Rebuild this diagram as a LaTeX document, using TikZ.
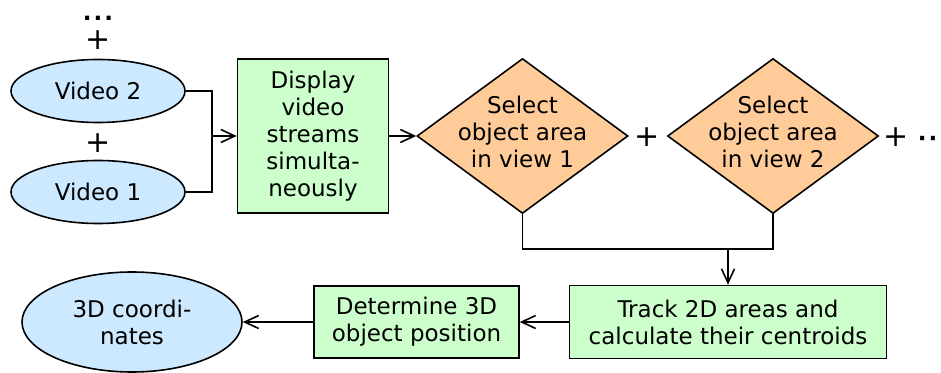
\documentclass[tikz,border=0pt]{standalone}
\usepackage{fontspec}
\setmainfont{DejaVu Sans}
\usetikzlibrary{arrows.meta,shapes.geometric,calc}
\definecolor{vidblue}{HTML}{CCE9FF}
\definecolor{boxgreen}{HTML}{CCFFCC}
\definecolor{selorange}{HTML}{FFCC99}

\begin{document}
\begin{tikzpicture}[x=0.5pt, y=-0.5pt, line width=0.8pt,
    every node/.style={font=\fontsize{11.5}{13.5}\selectfont, align=center},
    vid/.style={ellipse, draw, fill=vidblue, minimum width=87pt, minimum height=31.5pt, inner sep=1pt},
    stepbox/.style={rectangle, draw, fill=boxgreen, inner sep=2pt},
    sel/.style={diamond, draw, fill=selorange, minimum width=105.5pt, minimum height=77.5pt, inner sep=0pt},
    plus/.style={font=\fontsize{15}{18}\selectfont, inner sep=0pt},
    arr/.style={-{Straight Barb[length=7pt,width=6.5pt]}}]
    \useasboundingbox (0,0) rectangle (941,373);
    % the video inputs
    \node (dots) at (98,18) {\textbf{.\kern1pt.\kern1pt.}};
    \node[plus] (plus2) at (98,40) {+};
    \node[vid] (vid2) at (98,91) {Video 2};
    \node[plus] (plus1) at (98,143) {+};
    \node[vid] (vid1) at (98,192) {Video 1};
    \node[stepbox, minimum width=75.5pt, minimum height=77pt] (disp) at (313,136) {Display\\video\\streams\\simulta-\\neously};
    % one selection per view
    \node[sel, label={[yshift=2pt]center:Select\\object area\\in view 1}] (sel1) at (522.5,136) {};
    \node[plus] (plus3) at (647,137) {+};
    \node[sel, label={[yshift=2pt]center:Select\\object area\\in view 2}] (sel2) at (773,136) {};
    \node[plus] (plus4) at (896,137) {+};
    \node[anchor=west, inner sep=0pt] (more) at (917,141) {\textbf{·\kern1pt·}};
    % tracking and output
    \node[stepbox, minimum width=158.5pt, minimum height=36.5pt] (track) at (728,322) {Track 2D areas and\\calculate their centroids};
    \node[stepbox, minimum width=102.5pt, minimum height=36pt] (det) at (416.5,322) {Determine 3D\\object position};
    \node[vid, minimum width=110pt, minimum height=50pt] (coord) at (132,322) {3D coordi-\\nates};

    \coordinate (join) at (212,136);
    \coordinate (merge) at (728,249);
    \draw (vid2.east) -| (join) (vid1.east) -| (join);
    \draw[arr] (join) -- (disp);
    \draw[arr] (disp) -- (sel1);
    \draw (sel1.south) |- (merge) -| (sel2.south);
    \draw[arr] (merge) -- (track);
    \draw[arr] (track) -- (det);
    \draw[arr] (det) -- (coord);
\end{tikzpicture}
\end{document}
